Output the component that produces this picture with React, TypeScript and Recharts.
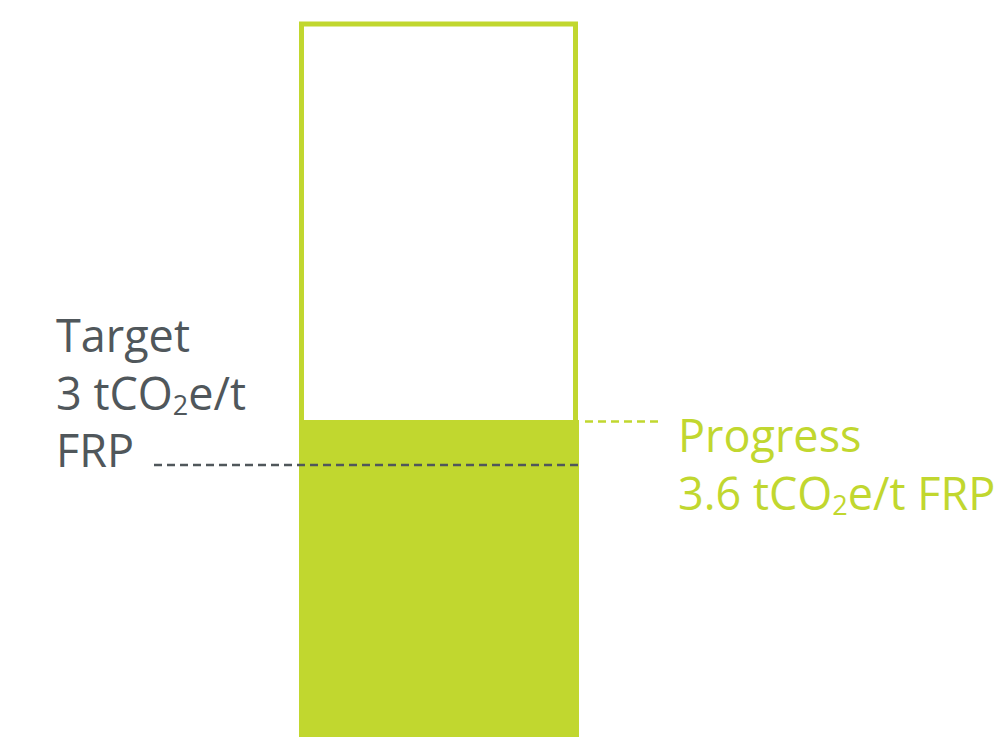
import React from 'react';
import { BarChart, Bar, XAxis, YAxis, ReferenceLine } from 'recharts';

// Data
const categories = ['FRP'];
const progressValues = [3.6];
const outlineValues = [8.88];
const targetValue = 3;
// bar runs off the bottom of the picture, so bars start below zero
const barFloor = -1;

const LIME = '#C1D72F';
const GREY = '#50575B';
const FONT = '"Open Sans", sans-serif';

const data = categories.map((name, i) => ({
  name,
  outline: [barFloor, outlineValues[i]],
  progress: [barFloor, progressValues[i]],
}));

const Sub2 = ({ color }: { color: string }) => (
  <>
    <tspan fontSize={27} dy={5} fill={color}>2</tspan>
    <tspan dy={-5} fill={color}>e/t</tspan>
  </>
);

// dashed leader + text, y comes from the reference line's scale position
const TargetMarker = (p: any) => {
  const y = p.y1;
  return (
    <g>
      <line x1={154} x2={579} y1={y} y2={y} stroke={GREY} strokeWidth={2.5} strokeDasharray="8 5" />
      <text fontFamily={FONT} fontSize={45} fill={GREY}>
        <tspan x={56} y={y - 113}>Target</tspan>
        <tspan x={56} y={y - 55}>{`${targetValue} tCO`}</tspan>
        <Sub2 color={GREY} />
        <tspan x={56} y={y + 2}>FRP</tspan>
      </text>
    </g>
  );
};

const ProgressMarker = (p: any) => {
  const y = p.y1;
  return (
    <g>
      <line x1={585} x2={660} y1={y + 1.5} y2={y + 1.5} stroke={LIME} strokeWidth={2.5} strokeDasharray="8 5" />
      <text fontFamily={FONT} fontSize={45} fill={LIME}>
        <tspan x={678} y={y + 32}>Progress</tspan>
        <tspan x={678} y={y + 90}>{`${progressValues[0]} tCO`}</tspan>
        <Sub2 color={LIME} />
        <tspan fill={LIME}> FRP</tspan>
      </text>
    </g>
  );
};

export default function App() {
  return (
    <div
      style={{
        position: 'fixed',
        top: 0,
        left: 0,
        width: 1004,
        height: 737,
        overflow: 'hidden',
        background: '#fff',
      }}
    >
      <BarChart
        width={1004}
        height={770}
        data={data}
        margin={{ top: 15, right: 0, bottom: 5, left: 0 }}
        barCategoryGap={0}
        barGap={0}
      >
        <XAxis xAxisId="outline" dataKey="name" hide padding={{ left: 301.5, right: 428.5 }} />
        <XAxis xAxisId="fill" dataKey="name" hide padding={{ left: 299, right: 425 }} />
        <YAxis type="number" domain={[barFloor, 9]} allowDataOverflow hide />
        <Bar
          xAxisId="outline"
          dataKey="outline"
          fill="#fff"
          stroke={LIME}
          strokeWidth={5}
          isAnimationActive={false}
        />
        <Bar xAxisId="fill" dataKey="progress" fill={LIME} isAnimationActive={false} />
        <ReferenceLine xAxisId="fill" y={targetValue} shape={<TargetMarker />} />
        <ReferenceLine xAxisId="fill" y={progressValues[0]} shape={<ProgressMarker />} />
      </BarChart>
    </div>
  );
}
